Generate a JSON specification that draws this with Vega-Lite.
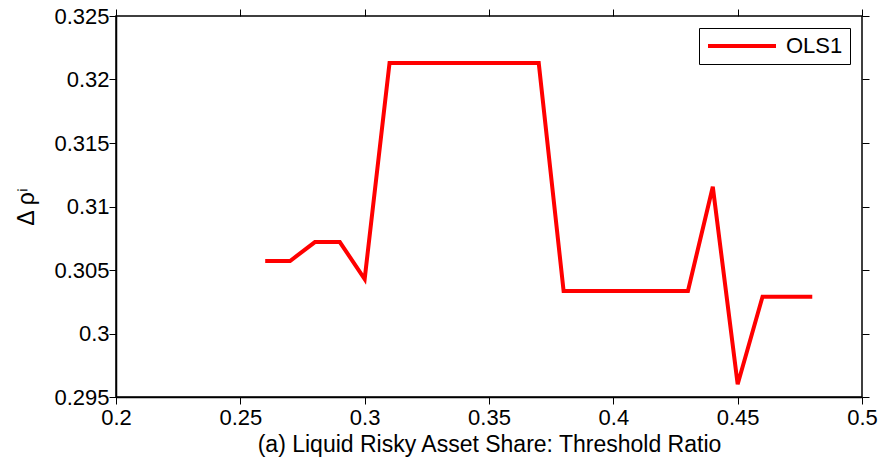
{
  "$schema": "https://vega.github.io/schema/vega-lite/v6.json",
  "width": 746,
  "height": 381,
  "autosize": "none",
  "padding": {"left": 116, "top": 16, "right": 19, "bottom": 66},
  "background": "white",
  "config": {
    "font": "Liberation Sans",
    "view": {"stroke": "black", "strokeWidth": 1.5},
    "axis": {
      "domainColor": "black",
      "domainWidth": 1.5,
      "tickColor": "black",
      "tickWidth": 1,
      "labelColor": "black",
      "titleColor": "black",
      "labelFont": "Liberation Sans",
      "titleFont": "Liberation Sans",
      "labelFontSize": 22,
      "titleFontSize": 23,
      "titleFontWeight": "normal",
      "grid": false,
      "labelFlush": false,
      "labelOverlap": false
    }
  },
  "data": {
    "values": [
      {"x": 0.26, "y": 0.30571, "s": "OLS1"},
      {"x": 0.27, "y": 0.30571, "s": "OLS1"},
      {"x": 0.28, "y": 0.30720, "s": "OLS1"},
      {"x": 0.29, "y": 0.30720, "s": "OLS1"},
      {"x": 0.30, "y": 0.30429, "s": "OLS1"},
      {"x": 0.31, "y": 0.32130, "s": "OLS1"},
      {"x": 0.32, "y": 0.32130, "s": "OLS1"},
      {"x": 0.33, "y": 0.32130, "s": "OLS1"},
      {"x": 0.34, "y": 0.32130, "s": "OLS1"},
      {"x": 0.35, "y": 0.32130, "s": "OLS1"},
      {"x": 0.36, "y": 0.32130, "s": "OLS1"},
      {"x": 0.37, "y": 0.32130, "s": "OLS1"},
      {"x": 0.38, "y": 0.30335, "s": "OLS1"},
      {"x": 0.39, "y": 0.30335, "s": "OLS1"},
      {"x": 0.40, "y": 0.30335, "s": "OLS1"},
      {"x": 0.41, "y": 0.30335, "s": "OLS1"},
      {"x": 0.42, "y": 0.30335, "s": "OLS1"},
      {"x": 0.43, "y": 0.30335, "s": "OLS1"},
      {"x": 0.44, "y": 0.31156, "s": "OLS1"},
      {"x": 0.45, "y": 0.29600, "s": "OLS1"},
      {"x": 0.46, "y": 0.30290, "s": "OLS1"},
      {"x": 0.47, "y": 0.30290, "s": "OLS1"},
      {"x": 0.48, "y": 0.30290, "s": "OLS1"}
    ]
  },
  "layer": [
    {
      "mark": {"type": "line", "strokeWidth": 4, "strokeJoin": "miter", "strokeCap": "butt", "clip": true},
      "encoding": {
        "x": {
          "field": "x", "type": "quantitative",
          "scale": {"domain": [0.2, 0.5], "nice": false, "zero": false},
          "axis": {"orient": "bottom", "tickSize": 7, "labelPadding": 3, "values": [0.2, 0.25, 0.3, 0.35, 0.4, 0.45, 0.5], "format": ".2~f", "title": "(a) Liquid Risky Asset Share: Threshold Ratio", "titlePadding": 5,
            "encode": {"ticks": {"y": {"value": 0}, "y2": {"value": -7}}}}
        },
        "y": {
          "field": "y", "type": "quantitative",
          "scale": {"domain": [0.295, 0.325], "nice": false, "zero": false},
          "axis": {"orient": "left", "tickSize": 7, "labelPadding": 0, "values": [0.295, 0.3, 0.305, 0.31, 0.315, 0.32, 0.325], "format": ".3~f", "title": "Δ ρⁱ", "titlePadding": 15,
            "encode": {"ticks": {"x": {"value": 0}, "x2": {"value": 7}}}}
        },
        "color": {
          "field": "s", "type": "nominal",
          "scale": {"range": ["#ff0000"]},
          "legend": {
            "title": null,
            "orient": "top-right",
            "offset": 12,
            "symbolType": "stroke",
            "symbolSize": 4624,
            "symbolStrokeWidth": 4,
            "clipHeight": 22,
            "labelFontSize": 22,
            "labelFont": "Liberation Sans",
            "labelColor": "black",
            "labelOffset": 8,
            "strokeColor": "black",
            "fillColor": "white",
            "padding": 7
          }
        }
      }
    },
    {
      "mark": {"type": "point", "opacity": 0},
      "encoding": {
        "x": {
          "field": "x", "type": "quantitative",
          "axis": {"orient": "top", "tickSize": 7, "domain": false, "values": [0.2, 0.25, 0.3, 0.35, 0.4, 0.45, 0.5], "labels": false, "title": null,
            "encode": {"ticks": {"y": {"value": 0}, "y2": {"value": 7}}}}
        },
        "y": {
          "field": "y", "type": "quantitative",
          "axis": {"orient": "right", "tickSize": 7, "domain": false, "values": [0.295, 0.3, 0.305, 0.31, 0.315, 0.32, 0.325], "labels": false, "title": null,
            "encode": {"ticks": {"x": {"value": 0}, "x2": {"value": -7}}}}
        }
      }
    }
  ],
  "resolve": {"axis": {"x": "independent", "y": "independent"}}
}
